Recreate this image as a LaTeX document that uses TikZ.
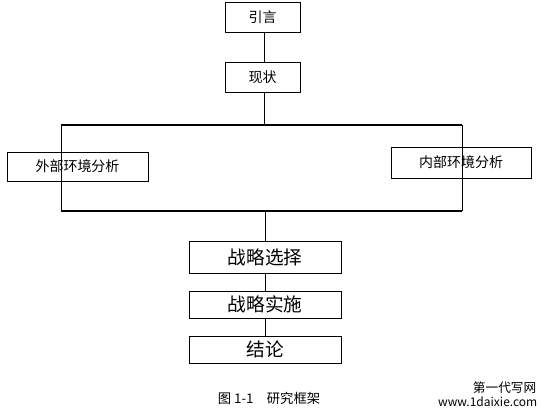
\documentclass[tikz,border=0pt]{standalone}
\usepackage{fontspec}
\setmainfont{Noto Sans CJK SC}
\usepackage{tikz}

\tikzset{
  stage/.style={draw, line width=0.6pt, inner sep=0pt, font=\fontsize{10.5}{12}\selectfont},
  bigstage/.style={stage, font=\fontsize{14}{16}\selectfont},
  link/.style={draw, line width=0.6pt},
  rail/.style={draw, line width=1.2pt}
}

\begin{document}
\begin{tikzpicture}[x=0.75pt, y=-0.75pt]
        \useasboundingbox (0,0) rectangle (551,417);

        % Top boxes
        \node[stage, minimum width=56.25pt, minimum height=22.5pt] (yinyan) at (262.5,17) {引言};
        \node[stage, minimum width=56.25pt, minimum height=22.5pt] (xianzhuang) at (262.5,77) {现状};

        % Frame corners
        \coordinate (tm) at (264,125);
        \coordinate (tl) at (61,125);
        \coordinate (tr) at (462,125);
        \coordinate (bl) at (61,211);
        \coordinate (br) at (462,211);
        \coordinate (bm) at (265,211);

        % Side boxes (environment analysis)
        \node[stage, minimum width=105.75pt, minimum height=21.75pt] (waibu) at (77.5,166.5) {外部环境分析};
        \node[stage, minimum width=105pt, minimum height=23.25pt] (neibu) at (461,162.5) {内部环境分析};

        % Lower boxes
        \node[bigstage, minimum width=114pt, minimum height=24pt] (xuanze) at (265,257) {战略选择};
        \node[bigstage, minimum width=114pt, minimum height=20.25pt] (shishi) at (265,304.5) {战略实施};
        \node[bigstage, minimum width=114pt, minimum height=20.25pt] (jielun) at (265,349.5) {结论};

        % Connectors
        \draw[link] (yinyan.south -| tm) -- (xianzhuang.north -| tm);
        \draw[link] (xianzhuang.south -| tm) -- (tm);
        \draw[rail] (tl) -- (tr);
        \draw[rail] (bl) -- (br);
        \draw[link] (tl) -- (bl);
        \draw[link] (tr) -- (br);
        \draw[link] (bm) -- (xuanze.north -| bm);
        \draw[link] (xuanze.south -| bm) -- (shishi.north -| bm);
        \draw[link] (shishi.south -| bm) -- (jielun.north -| bm);

        % Caption
        \node[font=\fontsize{10}{12}\selectfont] (caption) at (269,398) {图 1-1\quad 研究框架};

        % Watermark
        \node[font=\fontsize{9.5}{11}\selectfont, anchor=east] (mark1) at (541,388) {第一代写网};
        \node[font=\fontsize{9}{11}\selectfont, anchor=east] (mark2) at (542,402) {www.1daixie.com};
      \end{tikzpicture}
\end{document}
